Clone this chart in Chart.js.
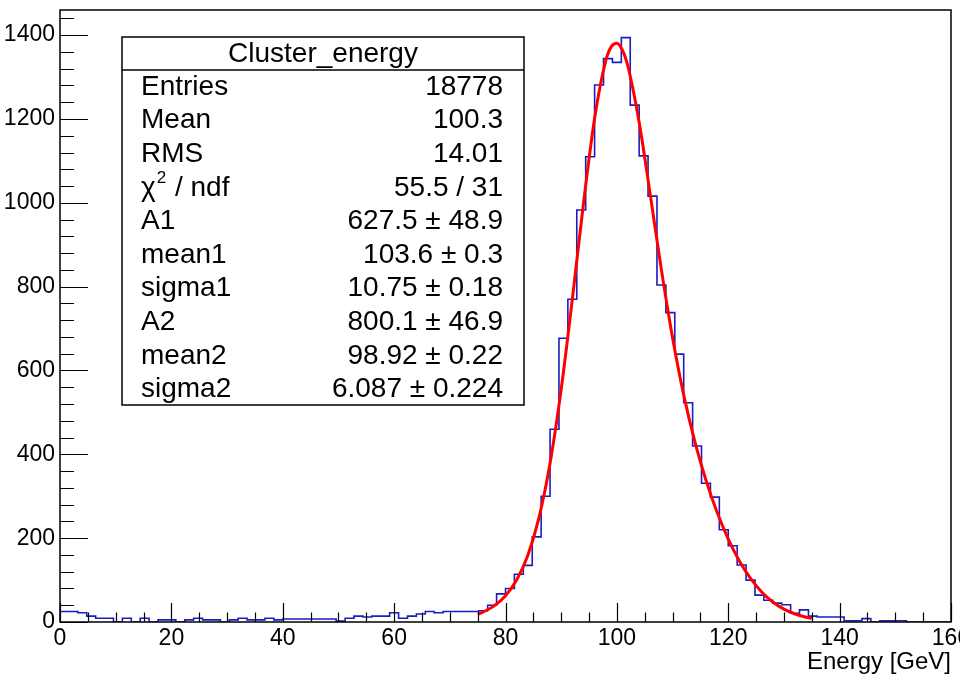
<!DOCTYPE html>
<html>
<head>
  <title>Cluster_energy</title>
  <script src="https://cdn.jsdelivr.net/npm/chart.js"></script>
  <style>
    body { margin: 0; background: #fff; }
    #wrap { position: relative; width: 960px; height: 677px; }
  </style>
</head>
<body>
<div id="wrap"><canvas id="myChart"></canvas></div>
<script>
  // histogram Cluster_energy : 100 bins from 0 to 160 GeV
  const binWidth = 1.6;
  const counts = [
    25, 25, 22, 14, 9, 9, 0, 9, 0, 9,
    0, 5, 5, 0, 5, 9, 5, 5, 0, 5,
    9, 5, 5, 9, 5, 7, 7, 7, 7, 7,
    7, 2, 9, 14, 12, 14, 14, 22, 9, 14,
    19, 25, 22, 25, 25, 25, 25, 27, 40, 67,
    80, 114, 135, 203, 300, 460, 677, 770, 983, 1110,
    1281, 1344, 1335, 1394, 1233, 1112, 1016, 804, 738, 639,
    523, 420, 331, 298, 220, 182, 136, 100, 64, 52,
    45, 41, 21, 29, 14, 12, 12, 12, 3, 3,
    8, 0, 3, 3, 3, 0, 0, 0, 0, 0
  ];

  // fitted curve (red)
  const fitX = [75, 76, 78, 80, 82, 84, 86, 88, 90, 92, 94, 96, 98, 99, 100, 101, 102,
                104, 106, 108, 110, 112, 114, 116, 118, 120, 122, 124, 126, 128, 130, 132, 134, 135];
  const fitY = [18.6, 23.9, 39.0, 62.8, 100.1, 158.8, 248.4, 378.9, 555.3, 769.9, 998.3, 1202, 1338.9, 1372.6, 1380.8, 1364.1, 1324.6,
                1191.9, 1018.9, 840.1, 678.2, 541.9, 430.2, 338.2, 261.7, 198.0, 145.6, 103.8, 71.6, 47.7, 30.8, 19.1, 11.5, 8.8];

  const xTicks = [0, 20, 40, 60, 80, 100, 120, 140, 160];
  const yTicks = [0, 200, 400, 600, 800, 1000, 1200, 1400];
  const xMinorStep = 5, yMinorStep = 40;

  // stats box
  const statTitle = 'Cluster_energy';
  const statNames = ['Entries', 'Mean', 'RMS', 'chi2', 'A1', 'mean1', 'sigma1', 'A2', 'mean2', 'sigma2'];
  const statValues = ['18778', '100.3', '14.01', '55.5 / 31', '627.5 \u00b1 48.9', '103.6 \u00b1 0.3',
                      '10.75 \u00b1 0.18', '800.1 \u00b1 46.9', '98.92 \u00b1 0.22', '6.087 \u00b1 0.224'];

  const FONT = '"Liberation Sans", Arial, Helvetica, sans-serif';

  const histPoints = counts.map((c, i) => ({ x: i * binWidth, y: c }));
  histPoints.push({ x: counts.length * binWidth, y: counts[counts.length - 1] });
  const fitPoints = fitX.map((v, i) => ({ x: v, y: fitY[i] }));

  // ROOT style frame, inner ticks and the stats box
  const rootFrame = {
    id: 'rootFrame',
    afterDatasetsDraw(chart) {
      const { ctx, chartArea: a, scales: { x, y } } = chart;
      ctx.save();
      ctx.strokeStyle = '#000';
      ctx.lineWidth = 1.2;
      ctx.beginPath();
      for (let v = x.min; v <= x.max + 1e-6; v += xMinorStep) {
        const px = Math.round(x.getPixelForValue(v)) + 0.5;
        const len = (v % 20 === 0) ? 19 : 9.5;
        ctx.moveTo(px, a.bottom);
        ctx.lineTo(px, a.bottom - len);
      }
      for (let v = 0; v <= y.max; v += yMinorStep) {
        const py = Math.round(y.getPixelForValue(v)) + 0.5;
        const len = (v % 200 === 0) ? 28 : 14;
        ctx.moveTo(a.left, py);
        ctx.lineTo(a.left + len, py);
      }
      ctx.stroke();
      ctx.lineWidth = 1.5;
      ctx.strokeRect(a.left, a.top, a.width, a.height);

      // stats box
      const bx = 122, by = 37, bw = 402, bh = 368, head = 33;
      ctx.fillStyle = '#fff';
      ctx.fillRect(bx, by, bw, bh);
      ctx.lineWidth = 1.5;
      ctx.strokeRect(bx, by, bw, bh);
      ctx.beginPath();
      ctx.moveTo(bx, by + head);
      ctx.lineTo(bx + bw, by + head);
      ctx.stroke();

      ctx.fillStyle = '#000';
      ctx.textBaseline = 'middle';
      ctx.font = '28px ' + FONT;
      ctx.textAlign = 'center';
      ctx.fillText(statTitle, bx + bw / 2, by + head / 2 + 1);

      for (let i = 0; i < statNames.length; i++) {
        const ty = 87 + i * 33.6;
        ctx.font = '28px ' + FONT;
        ctx.textAlign = 'left';
        if (statNames[i] === 'chi2') {
          ctx.fillText('\u03c7', 141, ty);
          const w = ctx.measureText('\u03c7').width;
          ctx.font = '17px ' + FONT;
          ctx.fillText('2', 141 + w + 1, ty - 9);
          const w2 = ctx.measureText('2').width;
          ctx.font = '28px ' + FONT;
          ctx.fillText(' / ndf', 141 + w + w2 + 2, ty);
        } else {
          ctx.fillText(statNames[i], 141, ty);
        }
        ctx.textAlign = 'right';
        ctx.fillText(statValues[i], 503, ty);
      }
      ctx.restore();
    }
  };

  const config = {
    type: 'line',
    data: {
      datasets: [
        {
          label: 'fit',
          data: fitPoints,
          borderColor: '#ff0000',
          borderWidth: 3,
          pointRadius: 0,
          fill: false,
          cubicInterpolationMode: 'monotone',
          order: 0,
        },
        {
          label: 'Cluster_energy',
          data: histPoints,
          borderColor: '#1c1cc0',
          borderWidth: 1.6,
          pointRadius: 0,
          fill: false,
          stepped: true,
          order: 1,
        },
      ],
    },
    options: {
      animation: false,
      responsive: true,
      maintainAspectRatio: false,
      layout: { padding: { top: 10, right: 9, left: 0, bottom: 0 } },
      scales: {
        x: {
          type: 'linear',
          min: 0,
          max: 160,
          grid: { display: false, drawTicks: false },
          border: { display: false },
          afterBuildTicks: (s) => { s.ticks = xTicks.map(v => ({ value: v })); },
          afterFit: (s) => { s.height = 55; s.paddingLeft = 0; s.paddingRight = 0; },
          ticks: {
            autoSkip: false,
            maxRotation: 0,
            padding: 3,
            color: '#000',
            font: { family: FONT, size: 23 },
            callback: (v) => String(v),
          },
          title: {
            display: true,
            text: 'Energy [GeV]',
            align: 'end',
            color: '#000',
            padding: { top: 0, bottom: 0 },
            font: { family: FONT, size: 24 },
          },
        },
        y: {
          type: 'linear',
          min: 0,
          max: 1460,
          grid: { display: false, drawTicks: false },
          border: { display: false },
          afterBuildTicks: (s) => { s.ticks = yTicks.map(v => ({ value: v })); },
          afterFit: (s) => { s.width = 60; s.paddingTop = 0; s.paddingBottom = 0; },
          ticks: {
            padding: 5,
            color: '#000',
            font: { family: FONT, size: 23 },
            callback: (v) => String(v),
          },
        },
      },
      plugins: {
        legend: { display: false },
        tooltip: { enabled: false },
      },
    },
    plugins: [rootFrame],
  };

  new Chart(document.getElementById('myChart'), config);
</script>
</body>
</html>
